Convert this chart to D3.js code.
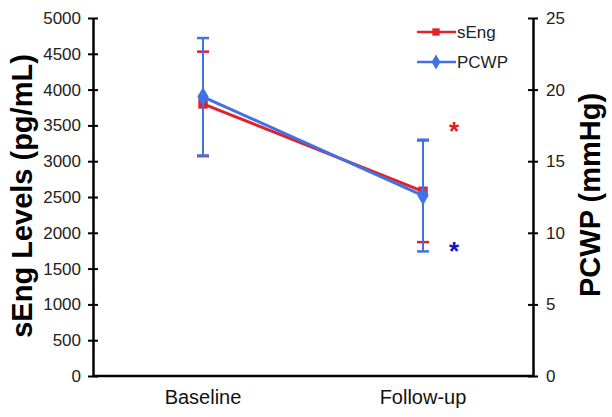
<!DOCTYPE html>
<html>
<head>
<meta charset="utf-8">
<script src="https://cdn.jsdelivr.net/npm/d3@7"></script>
<style>
  body { margin: 0; background: #fff; }
  svg { display: block; font-family: Arial, "Liberation Sans", sans-serif; }
</style>
</head>
<body>
<svg id="chart" width="612" height="417"></svg>
<script>
const categories = ['Baseline', 'Follow-up'];
const sEngMean = [3800, 2580];
const sEngErr = [730, 710];
const pcwpMean = [19.5, 12.6];
const pcwpErr = [4.1, 3.9];
const leftTicks = d3.range(0, 5001, 500);
const rightTicks = [0, 5, 10, 15, 20, 25];
const stars = [{ series: 'sEng', y: 17.4 }, { series: 'PCWP', y: 9 }];

const red = '#e0222b';
const blue = '#4171e6';

const svg = d3.select('#chart');
const plotLeft = 93, plotRight = 533, plotTop = 18, plotBottom = 376;

const x = d3.scalePoint().domain(categories).range([plotLeft, plotRight]).padding(0.5);
const yL = d3.scaleLinear().domain([0, 5000]).range([plotBottom, plotTop]);
const yR = d3.scaleLinear().domain([0, 25]).range([plotBottom, plotTop]);

// axes
const axisLeft = svg.append('g').attr('transform', `translate(${plotLeft},0)`)
  .call(d3.axisLeft(yL).tickValues(leftTicks).tickFormat(d3.format('d'))
    .tickSizeInner(5).tickSizeOuter(0).tickPadding(7));
const axisRight = svg.append('g').attr('transform', `translate(${plotRight},0)`)
  .call(d3.axisRight(yR).tickValues(rightTicks).tickSizeInner(5).tickSizeOuter(0).tickPadding(8));
[axisLeft, axisRight].forEach((g, i) => {
  g.select('.domain').attr('stroke', '#000').attr('stroke-width', 2.5);
  g.selectAll('.tick line').attr('stroke', '#000').attr('stroke-width', 2)
    .attr('x1', i ? -5 : 5);
  g.selectAll('.tick text').attr('font-size', 17).attr('fill', '#222')
    .attr('font-family', 'Arial, "Liberation Sans", sans-serif');
});
svg.append('line').attr('x1', plotLeft).attr('x2', plotRight)
  .attr('y1', plotBottom).attr('y2', plotBottom).attr('stroke', '#000').attr('stroke-width', 2.5);

svg.selectAll('.cat').data(categories).join('text')
  .attr('x', d => x(d)).attr('y', 404).attr('text-anchor', 'middle')
  .attr('font-size', 20).attr('fill', '#111').text(d => d);

svg.append('text').attr('transform', `translate(32,196) rotate(-90)`)
  .attr('text-anchor', 'middle').attr('font-size', 29).attr('font-weight', 'bold')
  .text('sEng Levels (pg/mL)');
svg.append('text').attr('transform', `translate(600,195) rotate(-90)`)
  .attr('text-anchor', 'middle').attr('font-size', 29).attr('font-weight', 'bold')
  .text('PCWP (mmHg)');

const series = [
  { name: 'sEng', color: red, y: yL, mean: sEngMean, err: sEngErr, shape: d3.symbolSquare, size: 90 },
  { name: 'PCWP', color: blue, y: yR, mean: pcwpMean, err: pcwpErr, shape: d3.symbolDiamond, size: 110 }
];

series.forEach(s => {
  const g = svg.append('g');
  categories.forEach((c, i) => {
    const cx = x(c);
    const hi = s.y(s.mean[i] + s.err[i]), lo = s.y(s.mean[i] - s.err[i]);
    g.append('line').attr('x1', cx).attr('x2', cx).attr('y1', hi).attr('y2', lo)
      .attr('stroke', s.color).attr('stroke-width', 2);
    [hi, lo].forEach(yy => g.append('line').attr('x1', cx - 6).attr('x2', cx + 6)
      .attr('y1', yy).attr('y2', yy).attr('stroke', s.color).attr('stroke-width', 2.5));
  });
  g.append('path').datum(s.mean)
    .attr('d', d3.line().x((d, i) => x(categories[i])).y(d => s.y(d)))
    .attr('fill', 'none').attr('stroke', s.color).attr('stroke-width', 3);
  g.selectAll('.m').data(s.mean).join('path')
    .attr('transform', (d, i) => `translate(${x(categories[i])},${s.y(d)})`)
    .attr('d', d3.symbol().type(s.shape).size(s.size)).attr('fill', s.color);
});

// legend
series.forEach((s, i) => {
  const ly = 32 + i * 30;
  svg.append('line').attr('x1', 417).attr('x2', 456).attr('y1', ly).attr('y2', ly)
    .attr('stroke', s.color).attr('stroke-width', 2.5);
  svg.append('path').attr('transform', `translate(436,${ly})`)
    .attr('d', d3.symbol().type(s.shape).size(s.size * 0.6)).attr('fill', s.color);
  svg.append('text').attr('x', 457).attr('y', ly + 6).attr('font-size', 17)
    .attr('fill', '#222').text(s.name);
});

// significance markers
svg.selectAll('.star').data(stars).join('text')
  .attr('x', 454).attr('y', d => yR(d.y) + 13).attr('text-anchor', 'middle')
  .attr('font-size', 26).attr('font-weight', 'bold')
  .attr('fill', d => d.series === 'sEng' ? '#e02020' : '#1414b8').text('*');
</script>
</body>
</html>
